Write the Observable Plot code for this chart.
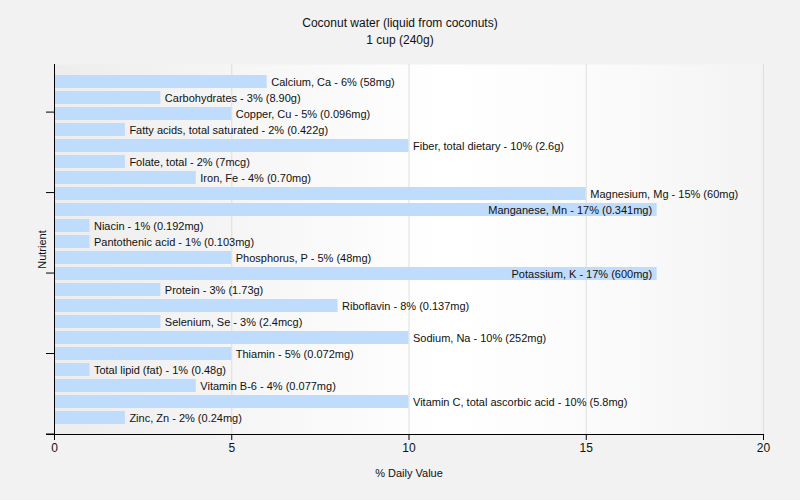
<!DOCTYPE html>
<html>
<head>
<meta charset="utf-8">
<script src="https://cdn.jsdelivr.net/npm/d3@7"></script>
<script src="https://cdn.jsdelivr.net/npm/@observablehq/plot@0.6"></script>
<style>
  html, body { margin: 0; padding: 0; background: #f2f2f2; }
  #wrap { position: relative; width: 800px; height: 500px; font-family: Tahoma, "Liberation Sans", Arial, sans-serif; }
  #wrap svg { position: absolute; left: 0; top: 0; }
  #title { position: absolute; left: 0; top: 15px; width: 800px; text-align: center; font-size: 12px; line-height: 17px; color: #111; z-index: 1; }
</style>
</head>
<body>
<div id="wrap">
  <div id="title">Coconut water (liquid from coconuts)<br>1 cup (240g)</div>
</div>
<script>
const nutrients = [
  "Calcium, Ca", "Carbohydrates", "Copper, Cu", "Fatty acids, total saturated",
  "Fiber, total dietary", "Folate, total", "Iron, Fe", "Magnesium, Mg",
  "Manganese, Mn", "Niacin", "Pantothenic acid", "Phosphorus, P",
  "Potassium, K", "Protein", "Riboflavin", "Selenium, Se", "Sodium, Na",
  "Thiamin", "Total lipid (fat)", "Vitamin B-6", "Vitamin C, total ascorbic acid", "Zinc, Zn"
];
const dailyValues = [6, 3, 5, 2, 10, 2, 4, 15, 17, 1, 1, 5, 17, 3, 8, 3, 10, 5, 1, 4, 10, 2];
const amounts = [
  "58mg", "8.90g", "0.096mg", "0.422g", "2.6g", "7mcg", "0.70mg", "60mg",
  "0.341mg", "0.192mg", "0.103mg", "48mg", "600mg", "1.73g", "0.137mg", "2.4mcg",
  "252mg", "0.072mg", "0.48g", "0.077mg", "5.8mg", "0.24mg"
];
const xTicks = [0, 5, 10, 15, 20];
const gridTicks = [5, 10, 15, 20];
const yTickFractions = [0, 0.2175, 0.435, 0.6525, 0.87];

const data = nutrients.map((n, i) => ({
  name: n, value: dailyValues[i],
  label: `${n} - ${dailyValues[i]}% (${amounts[i]})`
}));
const maxV = d3.max(dailyValues);

const font = "Tahoma, 'Liberation Sans', Arial, sans-serif";
const M = { left: 54, right: 37, top: 64, bottom: 66 };
const plot = Plot.plot({
  width: 800, height: 500,
  marginLeft: M.left, marginRight: M.right, marginTop: M.top, marginBottom: M.bottom,
  style: { background: "transparent", fontFamily: font, fontSize: "11px", color: "#111" },
  x: { domain: [0, 20], ticks: xTicks, label: null },
  y: { domain: nutrients, paddingInner: 0.2, paddingOuter: 0.55, axis: null, label: null },
  marks: [
    Plot.frame({ fill: "url(#plotbg)", stroke: null }),
    Plot.ruleX(gridTicks, { stroke: "#dedede", strokeWidth: 1 }),
    Plot.barX(data, { x: "value", y: "name", fill: "#c0dcfc", insetLeft: 1 }),
    Plot.text(data.filter(d => d.value < maxV), { x: "value", y: "name", text: "label", textAnchor: "start", dx: 4, fill: "#111", fontSize: 11 }),
    Plot.text(data.filter(d => d.value >= maxV), { x: "value", y: "name", text: "label", textAnchor: "end", dx: -5, fill: "#111", fontSize: 11 }),
    Plot.frame({ anchor: "left", stroke: "#000", insetBottom: -3 }),
    Plot.frame({ anchor: "bottom", stroke: "#000", insetLeft: -8 }),
    Plot.axisX(xTicks, { tickSize: 6, tickPadding: 3, fontSize: 12, stroke: "#000", label: null }),
    Plot.text(["% Daily Value"], { frameAnchor: "bottom", dy: 42, fontSize: 11, fill: "#111" }),
    Plot.text(["Nutrient"], { frameAnchor: "left", textAnchor: "middle", dx: -12, rotate: -90, fontSize: 11, fill: "#111" })
  ]
});

const svg = d3.select(plot);
const defs = svg.insert("defs", ":first-child");
const grad = defs.append("linearGradient").attr("id", "plotbg").attr("x1", "0").attr("x2", "1").attr("y1", "0").attr("y2", "0");
grad.append("stop").attr("offset", "0%").attr("stop-color", "#ededed");
grad.append("stop").attr("offset", "55%").attr("stop-color", "#ffffff");
grad.append("stop").attr("offset", "80%").attr("stop-color", "#fafafa");
grad.append("stop").attr("offset", "100%").attr("stop-color", "#f3f3f3");

// decorative left-axis ticks
const yTop = M.top, yBottom = 500 - M.bottom, xLeft = M.left;
svg.append("g").selectAll("line").data(yTickFractions).join("line")
  .attr("x1", xLeft - 8).attr("x2", xLeft)
  .attr("y1", f => yBottom - f * (yBottom - yTop))
  .attr("y2", f => yBottom - f * (yBottom - yTop))
  .attr("stroke", "#000");

document.getElementById("wrap").prepend(plot);
</script>
</body>
</html>
